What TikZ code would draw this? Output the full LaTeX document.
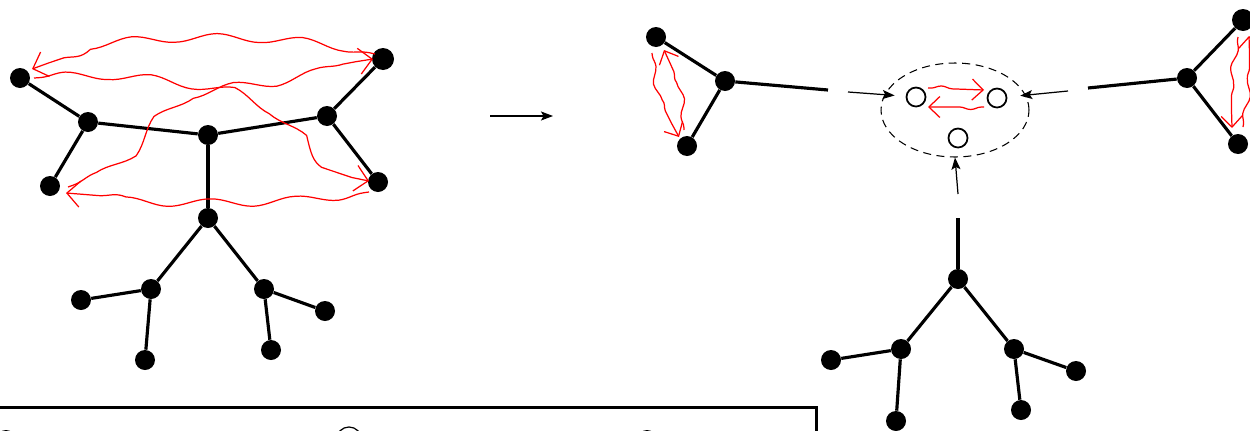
\documentclass[tikz,border=0pt]{standalone}
\usetikzlibrary{arrows.meta,decorations.pathmorphing,calc,shapes.geometric}
\begin{document}
\begin{tikzpicture}[x=0.02cm,y=-0.02cm,
  dot/.style={circle,fill=black,inner sep=0pt,minimum size=0.4cm},
  bigdot/.style={dot,minimum size=0.44cm},
  ring/.style={circle,draw=black,line width=1pt,inner sep=0pt,minimum size=0.38cm},
  edge/.style={line width=1.8pt},
  thinarrow/.style={line width=0.7pt,-{Stealth[length=2.4mm,width=1.8mm,inset=0.5mm]}},
  longwave/.style={red,line width=0.7pt,-{Straight Barb[length=2.6mm,width=5.2mm]},decorate,
    decoration={snake,amplitude=0.8mm,segment length=1.7cm,pre length=1mm,post length=3.5mm}},
  shortwave/.style={red,line width=0.7pt,-{Straight Barb[length=2.2mm,width=4.2mm]},decorate,
    decoration={snake,amplitude=0.5mm,segment length=7mm,pre length=0.5mm,post length=3mm}},
  group/.style={ellipse,draw=black,dashed,dash pattern=on 1.6mm off 1.1mm,line width=0.6pt,
    inner sep=0pt,minimum width=2.96cm,minimum height=1.88cm},
]
\useasboundingbox (0,0) rectangle (1250,430);
\clip (0,0) rectangle (1250,430);

% ---------- left graph ----------
\node[dot] (A1) at (20,78) {};
\node[bigdot] (A2) at (383,59) {};
\node[dot] (B1) at (88,122) {};
\node[dot] (B2) at (208,135) {};
\node[dot] (B3) at (327,116) {};
\node[dot] (C1) at (50,186) {};
\node[dot] (C2) at (378,182) {};
\node[dot] (D) at (208,218) {};
\node[dot] (E1) at (151,289) {};
\node[dot] (E2) at (264,289) {};
\node[dot] (F1) at (81,300) {};
\node[dot] (F2) at (145,360) {};
\node[dot] (F3) at (325,311) {};
\node[dot] (F4) at (271,350) {};

\draw[edge] (A1) -- (B1) -- (C1);
\draw[edge] (B1) -- (B2) -- (B3) -- (A2);
\draw[edge] (B3) -- (C2);
\draw[edge] (B2) -- (D);
\draw[edge] (D) -- (E1) -- (F1);
\draw[edge] (E1) -- (F2);
\draw[edge] (D) -- (E2) -- (F3);
\draw[edge] (E2) -- (F4);

\draw[longwave] ($(A2)+(-8,-5)$) .. controls (300,36) and (110,36) .. ($(A1)+(12,-9)$);
\draw[longwave] ($(A1)+(14,0)$) .. controls (120,72) and (170,88) .. (210,92)
   .. controls (265,100) and (290,170) .. ($(C2)+(-9,-1)$);
\draw[longwave] ($(C2)+(-9,10)$) .. controls (280,205) and (150,200) .. ($(C1)+(16,7)$);
\draw[longwave] ($(C1)+(18,1)$) .. controls (150,160) and (110,100) .. (220,93)
   .. controls (300,88) and (320,65) .. ($(A2)+(-10,0)$);

% ---------- middle arrow ----------
\coordinate (m1) at (490,116);
\coordinate (m2) at (553,116);
\draw[thinarrow] (m1) -- (m2);

% ---------- right graph ----------
\node[dot] (G1) at (656,37) {};
\node[dot] (G2) at (725,81) {};
\node[dot] (G3) at (687,146) {};
\node[bigdot] (H1) at (1243,20) {};
\node[dot] (H2) at (1187,78) {};
\node[dot] (H3) at (1238,144) {};
\node[dot] (J) at (958,279) {};
\node[dot] (K1) at (901,349) {};
\node[dot] (K2) at (1014,349) {};
\node[dot] (L1) at (831,360) {};
\node[dot] (L2) at (896,421) {};
\node[dot] (L3) at (1076,371) {};
\node[dot] (L4) at (1021,410) {};

\node[group] (grp) at (955,110) {};
\node[ring] (RL) at (916,97) {};
\node[ring] (RR) at (997,98) {};
\node[ring] (RB) at (958,138) {};

\draw[edge] (G1) -- (G2) -- (G3);
\draw[edge] (H1) -- (H2) -- (H3);
\draw[edge] (J) -- (K1) -- (L1);
\draw[edge] (K1) -- (L2);
\draw[edge] (J) -- (K2) -- (L3);
\draw[edge] (K2) -- (L4);

\coordinate (gL1) at (828,90);
\coordinate (gL2) at (848,92);
\coordinate (gR1) at (1088,88);
\coordinate (gR2) at (1068,91);
\coordinate (gB1) at (958,218);
\coordinate (gB2) at (958,194);
\draw[edge] (G2) -- (gL1);
\draw[thinarrow,shorten >=2.2mm] (gL2) -- (RL);
\draw[edge] (H2) -- (gR1);
\draw[thinarrow,shorten >=2.6mm] (gR2) -- (RR);
\draw[edge] (J) -- (gB1);
\draw[thinarrow] (gB2) -- (grp.south);

\draw[shortwave] ($(G1)+(-4,16)$) to[bend right=12] ($(G3)+(-8,-9)$);
\draw[shortwave] ($(G3)+(-3,-16)$) to[bend right=12] ($(G1)+(8,13)$);
\draw[shortwave] ($(H1)+(-5,17)$) to[bend right=6] ($(H3)+(-6,-16)$);
\draw[shortwave] ($(H3)+(5,-17)$) to[bend right=6] ($(H1)+(6,16)$);
\draw[shortwave] ($(RL)+(12,-9)$) -- ($(RR)+(-13,-8)$);
\draw[shortwave] ($(RR)+(-13,9)$) -- ($(RL)+(12,10)$);

% ---------- bottom box (cut off) ----------
\draw[line width=1.7pt] (-10,407) -- (816,407) -- (816,440);
\node[dot] (lg1) at (6,440) {};
\node[ring,line width=0.7pt,minimum size=0.5cm] (lg2) at (349,439.5) {};
\node[dot] (lg3) at (647,440) {};
\end{tikzpicture}
\end{document}
